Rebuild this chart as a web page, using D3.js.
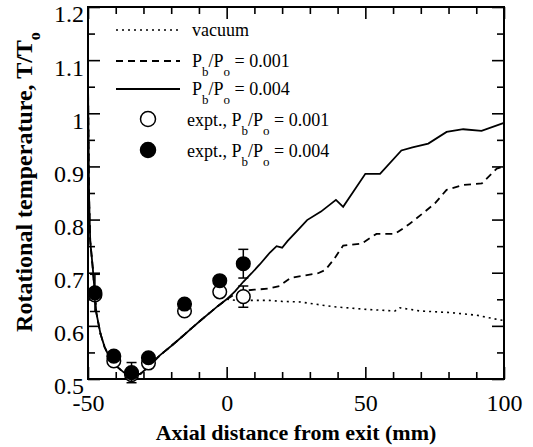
<!DOCTYPE html>
<html>
<head>
<meta charset="utf-8">
<script src="https://cdn.jsdelivr.net/npm/d3@7"></script>
<style>
  body { margin: 0; background: #fff; }
  svg { display: block; }
</style>
</head>
<body>
<svg id="chart"></svg>
<script>
// axis ticks
const xMajor = [-50, 0, 50, 100]
const xMinor = [-40, -30, -20, -10, 10, 20, 30, 40, 60, 70, 80, 90]
const yMajor = [0.5, 0.6, 0.7, 0.8, 0.9, 1, 1.1, 1.2]
const yMinor = [0.55, 0.65, 0.75, 0.85, 0.95, 1.05, 1.15]

// simulation curves (x mm, T/To); all three share the nozzle part
const nozzle = [[-50, 1.06], [-49.6, 0.84], [-49.2, 0.76], [-48.3, 0.71], [-47, 0.625],
  [-45.5, 0.585], [-44, 0.56], [-42, 0.538], [-40, 0.525], [-37, 0.512], [-34.5, 0.504],
  [-31, 0.51], [-28, 0.524], [-24, 0.545], [-20, 0.562], [-16, 0.58], [-13, 0.594],
  [-9, 0.612], [-6, 0.625], [-3, 0.638], [0, 0.65]]
const vacuum = [[3, 0.648], [8, 0.648], [15, 0.648], [20, 0.646], [26.4, 0.645], [38.5, 0.636],
  [50.5, 0.631], [60.7, 0.628], [62.5, 0.634], [69.7, 0.628], [80.5, 0.625], [90.2, 0.62],
  [98.6, 0.611], [100, 0.61]]
const pb001 = [[3, 0.66], [6, 0.666], [10, 0.668], [15, 0.67], [19, 0.675], [23, 0.69],
  [27, 0.694], [33, 0.699], [35.5, 0.705], [38.5, 0.724], [42, 0.751], [48.7, 0.755],
  [54, 0.773], [60.7, 0.773], [66, 0.792], [71, 0.813], [75, 0.83], [79.3, 0.856],
  [85.3, 0.865], [92, 0.868], [97.4, 0.896], [100, 0.9]]
const pb004 = [[3, 0.665], [6, 0.683], [9, 0.699], [12, 0.716], [15.6, 0.738], [18, 0.75],
  [20, 0.747], [22, 0.76], [26, 0.782], [29, 0.799], [34, 0.815], [39.4, 0.837], [42, 0.824],
  [50, 0.886], [55.3, 0.886], [63, 0.93], [67, 0.936], [72.7, 0.943], [79.3, 0.965],
  [85.3, 0.97], [91.9, 0.967], [100, 0.982]]

// experiments
const exptX = [-47.5, -40.7, -34.3, -28.2, -15.2, -2.5, 6]
const expt001 = [0.658, 0.534, 0.508, 0.53, 0.628, 0.664, 0.655]
const err001 = [0, 0, 0, 0, 0, 0, 0.02]
const expt004 = [0.662, 0.543, 0.512, 0.54, 0.641, 0.685, 0.717]
const err004 = [0.035, 0, 0.019, 0, 0, 0, 0.027]

const FONT = "'Liberation Serif', 'Times New Roman', serif"
const W = 533; const H = 447
const svg = d3.select('#chart').attr('width', W).attr('height', H)
  .attr('font-family', FONT)
const pl = 88; const pr = 504; const pt = 7; const pb = 379

const x = d3.scaleLinear().domain([-50, 100]).range([pl, pr])
const y = d3.scaleLinear().domain([0.5, 1.2]).range([pb, pt])

function tickAxis (axis, g) {
  g.call(axis)
  g.attr('font-family', FONT)
  g.select('.domain').remove()
  g.selectAll('.tick line').attr('stroke', '#000').attr('stroke-width', 1.6)
}

// minor + major ticks on all four sides, pointing inside
tickAxis(d3.axisBottom(x).tickValues(xMinor).tickSize(-7).tickFormat(''),
  svg.append('g').attr('transform', `translate(0,${pb})`))
tickAxis(d3.axisTop(x).tickValues(xMinor).tickSize(-7).tickFormat(''),
  svg.append('g').attr('transform', `translate(0,${pt})`))
tickAxis(d3.axisTop(x).tickValues(xMajor).tickSize(-12).tickFormat(''),
  svg.append('g').attr('transform', `translate(0,${pt})`))
tickAxis(d3.axisLeft(y).tickValues(yMinor).tickSize(-7).tickFormat(''),
  svg.append('g').attr('transform', `translate(${pl},0)`))
tickAxis(d3.axisRight(y).tickValues(yMinor).tickSize(-7).tickFormat(''),
  svg.append('g').attr('transform', `translate(${pr},0)`))
tickAxis(d3.axisRight(y).tickValues(yMajor).tickSize(-12).tickFormat(''),
  svg.append('g').attr('transform', `translate(${pr},0)`))

const xAx = svg.append('g').attr('transform', `translate(0,${pb})`)
tickAxis(d3.axisBottom(x).tickValues(xMajor).tickSize(-12).tickPadding(15).tickFormat(d => String(d)), xAx)
xAx.selectAll('text').attr('font-size', 24).attr('fill', '#000')

const yAx = svg.append('g').attr('transform', `translate(${pl},0)`)
tickAxis(d3.axisLeft(y).tickValues(yMajor).tickSize(-12).tickPadding(4).tickFormat(d => String(+d.toFixed(1))), yAx)
yAx.selectAll('text').attr('font-size', 24).attr('fill', '#000').attr('dy', '0.62em')

// frame
svg.append('rect').attr('x', pl).attr('y', pt)
  .attr('width', pr - pl).attr('height', pb - pt)
  .attr('fill', 'none').attr('stroke', '#000').attr('stroke-width', 2)

// axis titles
svg.append('text').attr('x', (pl + pr) / 2).attr('y', 440)
  .attr('text-anchor', 'middle').attr('font-size', 22).attr('font-weight', 'bold')
  .text('Axial distance from exit (mm)')

const yt = svg.append('text').attr('transform', 'translate(32,182) rotate(-90)')
  .attr('text-anchor', 'middle').attr('font-size', 24).attr('font-weight', 'bold')
yt.append('tspan').text('Rotational temperature, T/T')
yt.append('tspan').attr('font-size', 16).attr('dy', 8).text('o')

// curves
const line = d3.line().x(d => x(d[0])).y(d => y(d[1]))
const curves = [
  { data: nozzle.concat(vacuum), dash: '2,4', width: 1.6 },
  { data: nozzle.concat(pb001), dash: '7,5', width: 1.8 },
  { data: nozzle.concat(pb004), dash: null, width: 1.8 }
]
svg.append('g').selectAll('path').data(curves).enter().append('path')
  .attr('d', d => line(d.data))
  .attr('fill', 'none').attr('stroke', '#000')
  .attr('stroke-width', d => d.width)
  .attr('stroke-dasharray', d => d.dash)

// experimental points with error bars
const sets = [
  { vals: expt001, errs: err001, fill: '#fff' },
  { vals: expt004, errs: err004, fill: '#000' }
]
sets.forEach(s => {
  const pts = exptX.map((xv, i) => ({ x: xv, y: s.vals[i], e: s.errs[i] }))
  const eb = svg.append('g').selectAll('g').data(pts.filter(p => p.e > 0)).enter().append('g')
    .attr('stroke', '#000').attr('stroke-width', 1.5)
  eb.append('line').attr('x1', d => x(d.x)).attr('x2', d => x(d.x))
    .attr('y1', d => y(d.y - d.e)).attr('y2', d => y(d.y + d.e))
  eb.append('line').attr('x1', d => x(d.x) - 5).attr('x2', d => x(d.x) + 5)
    .attr('y1', d => y(d.y - d.e)).attr('y2', d => y(d.y - d.e))
  eb.append('line').attr('x1', d => x(d.x) - 5).attr('x2', d => x(d.x) + 5)
    .attr('y1', d => y(d.y + d.e)).attr('y2', d => y(d.y + d.e))
  svg.append('g').selectAll('circle').data(pts).enter().append('circle')
    .attr('cx', d => x(d.x)).attr('cy', d => y(d.y)).attr('r', 6.8)
    .attr('fill', s.fill).attr('stroke', '#000').attr('stroke-width', 1.5)
})

// legend
const sub = (a, c) => [[a, 0], ['b', 1], ['/P', 0], ['o', 1], [c, 0]]
const legend = [
  { kind: 'line', dash: '2,4', w: 1.6, y: 30, tx: 192, ty: 36, parts: [['vacuum', 0]] },
  { kind: 'line', dash: '7,5', w: 1.8, y: 61, tx: 192, ty: 67, parts: sub('P', ' = 0.001') },
  { kind: 'line', dash: null, w: 1.8, y: 89, tx: 192, ty: 95, parts: sub('P', ' = 0.004') },
  { kind: 'dot', fill: '#fff', y: 119, tx: 187, ty: 126, parts: sub('expt., P', ' = 0.001') },
  { kind: 'dot', fill: '#000', y: 150, tx: 187, ty: 157, parts: sub('expt., P', ' = 0.004') }
]
const lg = svg.append('g')
legend.forEach(it => {
  if (it.kind === 'line') {
    lg.append('line').attr('x1', 116).attr('x2', 180).attr('y1', it.y).attr('y2', it.y)
      .attr('stroke', '#000').attr('stroke-width', it.w).attr('stroke-dasharray', it.dash)
  } else {
    lg.append('circle').attr('cx', 148).attr('cy', it.y).attr('r', 7.5)
      .attr('fill', it.fill).attr('stroke', '#000').attr('stroke-width', 1.5)
  }
  const t = lg.append('text').attr('x', it.tx).attr('y', it.ty).attr('font-size', 18)
  let shift = 0
  it.parts.forEach(p => {
    const want = p[1] ? 9 : 0
    t.append('tspan').attr('dy', want - shift).attr('font-size', p[1] ? 13 : 18).text(p[0])
    shift = want
  })
})
</script>
</body>
</html>
